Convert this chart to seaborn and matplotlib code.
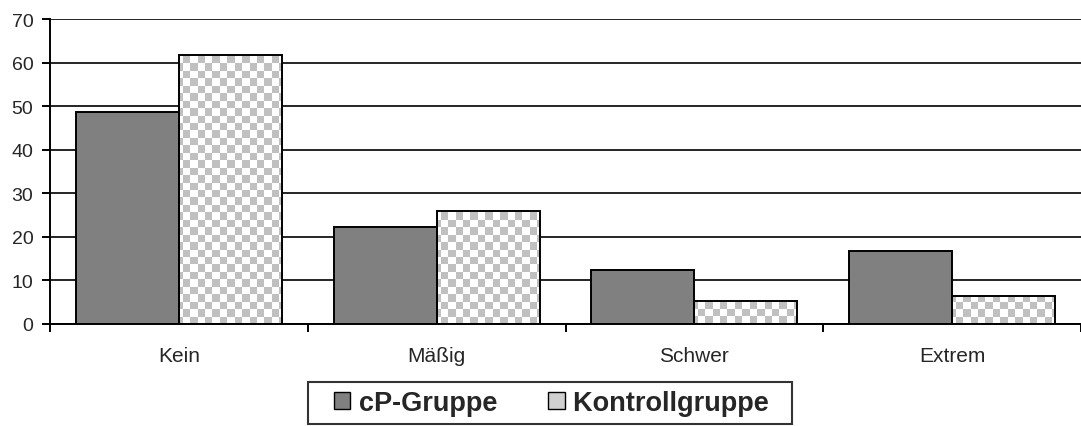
import numpy as np
import pandas as pd
import matplotlib
matplotlib.use("Agg")
import matplotlib.pyplot as plt
from matplotlib.colors import ListedColormap
from matplotlib.patches import Patch, Rectangle
from matplotlib.legend_handler import HandlerPatch
import seaborn as sns

# Data
categories = ["Kein", "Mäßig", "Schwer", "Extrem"]
groups = ["cP-Gruppe", "Kontrollgruppe"]
cp_values = [48.6, 22.1, 12.4, 16.6]
kontroll_values = [61.7, 25.9, 5.2, 6.4]
y_ticks = [0, 10, 20, 30, 40, 50, 60, 70]

df = pd.DataFrame({
    "kategorie": categories * 2,
    "gruppe": [groups[0]] * 4 + [groups[1]] * 4,
    "wert": cp_values + kontroll_values,
})

sns.set_theme(style="white")
plt.rcParams["font.family"] = ["Liberation Sans", "DejaVu Sans"]

fig = plt.figure(figsize=(10.81, 4.27), dpi=100)
ax = fig.add_axes([0.0463, 0.240, 0.9537, 0.713])

sns.barplot(data=df, x="kategorie", y="wert", hue="gruppe", order=categories,
            hue_order=groups, palette=["#808080", "white"], width=0.8,
            edgecolor="black", linewidth=1.4, saturation=1, ax=ax, legend=False, zorder=1)

# checkerboard texture for the control group, clipped to each bar
for bar in ax.containers[1]:
    bar.set_facecolor("none")
nx, ny = 140, 41
checker = np.add.outer(np.arange(ny), np.arange(nx)) % 2
cmap = ListedColormap(["white", "#c0c0c0"])
for bar in ax.containers[1]:
    im = ax.imshow(checker, cmap=cmap, extent=(-0.5, 3.5, 0, 70), aspect="auto",
                   interpolation="nearest", origin="lower", zorder=0.8)
    im.set_clip_path(bar)
ax.set_xlim(-0.5, 3.5)
ax.set_ylim(0, 70)

ax.set_axisbelow(True)
ax.set_yticks(y_ticks)
ax.yaxis.grid(True, color="black", linewidth=1.2)
ax.xaxis.grid(False)
for side in ["top", "right"]:
    ax.spines[side].set_visible(False)
for side in ["left", "bottom"]:
    ax.spines[side].set_color("black")
    ax.spines[side].set_linewidth(1.4)

ax.set_xticks(range(len(categories)))
ax.set_xticklabels(categories)
ax.set_xticks(np.arange(-0.5, 4.0, 1.0), minor=True)
ax.tick_params(axis="x", which="major", length=0, pad=16, labelsize=15)
ax.tick_params(axis="x", which="minor", length=6, width=1.4, color="black", direction="out", bottom=True)
ax.tick_params(axis="y", length=6, width=1.4, color="black", direction="out", left=True, labelsize=14, pad=6)
ax.set_xlabel("")
ax.set_ylabel("")


def square_right(legend, orig_handle, xdescent, ydescent, width, height, fontsize):
    return Rectangle((-xdescent + width - height, -ydescent), height, height)


handles = [
    Patch(facecolor="#808080", edgecolor="black", linewidth=1.0),
    Patch(facecolor="#d0d0d0", edgecolor="black", linewidth=1.0),
]
leg = fig.legend(handles, [groups[0], groups[1] + "  "], loc="upper center",
                 bbox_to_anchor=(0.5088, 0.103), borderaxespad=0,
                 ncol=2, frameon=True, fancybox=False, handlelength=1.25, handleheight=0.55,
                 handletextpad=0.3, columnspacing=1.25, borderpad=0.3,
                 handler_map={Patch: HandlerPatch(patch_func=square_right)},
                 prop={"weight": "bold", "size": 19.5})
leg.get_frame().set_edgecolor("black")
leg.get_frame().set_linewidth(1.5)

plt.savefig("out.png", dpi=100)
